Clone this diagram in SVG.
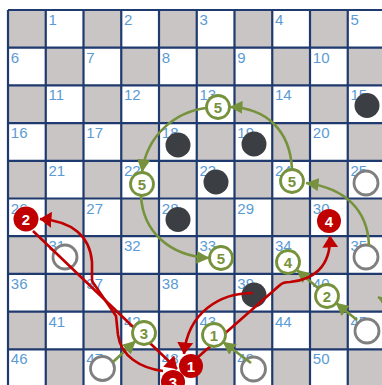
<svg xmlns="http://www.w3.org/2000/svg" width="382" height="385" viewBox="0 0 382 385">
<style>
.lbl{font-family:"Liberation Sans",Arial,sans-serif;font-size:15px;fill:#5b9bd5}
.blk{fill:#3b3e43}
.wht{fill:#ffffff;stroke:#7f7f7f;stroke-width:2.8}
.gm{fill:#ffffff;stroke:#76923c;stroke-width:2.8}
.gt{font-family:"Liberation Sans",Arial,sans-serif;font-size:15px;font-weight:bold;fill:#76923c;text-anchor:middle}
.rd{fill:#c00000}
.rt{font-family:"Liberation Sans",Arial,sans-serif;font-size:15px;font-weight:bold;fill:#ffffff;text-anchor:middle}
.gl{fill:none;stroke:#76923c;stroke-width:2.6}
.rl{fill:none;stroke:#c00000;stroke-width:2.6}
</style>
<defs>
<marker id="ag" viewBox="0 0 13 13" refX="12.5" refY="6.5" markerWidth="13" markerHeight="13" markerUnits="userSpaceOnUse" orient="auto"><path d="M0,0 L13,6.5 L0,13 z" fill="#76923c"/></marker>
<marker id="ar" viewBox="0 0 12 16" refX="11.5" refY="8" markerWidth="12" markerHeight="16" markerUnits="userSpaceOnUse" orient="auto"><path d="M0,0 L12,8 L0,16 z" fill="#c00000"/></marker>
</defs>
<rect width="382" height="385" fill="#ffffff"/>
<g id="board">
<rect x="8" y="10" width="377" height="377" fill="#c9c5c4"/>
<path fill="#ffffff" d="M45.75,10h37.75v37.7h-37.75z M121.25,10h37.75v37.7h-37.75z M196.75,10h37.75v37.7h-37.75z M272.25,10h37.75v37.7h-37.75z M347.75,10h37.75v37.7h-37.75z
M8,47.7h37.75v37.7h-37.75z M83.5,47.7h37.75v37.7h-37.75z M159,47.7h37.75v37.7h-37.75z M234.5,47.7h37.75v37.7h-37.75z M310,47.7h37.75v37.7h-37.75z
M45.75,85.4h37.75v37.7h-37.75z M121.25,85.4h37.75v37.7h-37.75z M196.75,85.4h37.75v37.7h-37.75z M272.25,85.4h37.75v37.7h-37.75z M347.75,85.4h37.75v37.7h-37.75z
M8,123.1h37.75v37.7h-37.75z M83.5,123.1h37.75v37.7h-37.75z M159,123.1h37.75v37.7h-37.75z M234.5,123.1h37.75v37.7h-37.75z M310,123.1h37.75v37.7h-37.75z
M45.75,160.8h37.75v37.7h-37.75z M121.25,160.8h37.75v37.7h-37.75z M196.75,160.8h37.75v37.7h-37.75z M272.25,160.8h37.75v37.7h-37.75z M347.75,160.8h37.75v37.7h-37.75z
M8,198.5h37.75v37.7h-37.75z M83.5,198.5h37.75v37.7h-37.75z M159,198.5h37.75v37.7h-37.75z M234.5,198.5h37.75v37.7h-37.75z M310,198.5h37.75v37.7h-37.75z
M45.75,236.2h37.75v37.7h-37.75z M121.25,236.2h37.75v37.7h-37.75z M196.75,236.2h37.75v37.7h-37.75z M272.25,236.2h37.75v37.7h-37.75z M347.75,236.2h37.75v37.7h-37.75z
M8,273.9h37.75v37.7h-37.75z M83.5,273.9h37.75v37.7h-37.75z M159,273.9h37.75v37.7h-37.75z M234.5,273.9h37.75v37.7h-37.75z M310,273.9h37.75v37.7h-37.75z
M45.75,311.6h37.75v37.7h-37.75z M121.25,311.6h37.75v37.7h-37.75z M196.75,311.6h37.75v37.7h-37.75z M272.25,311.6h37.75v37.7h-37.75z M347.75,311.6h37.75v37.7h-37.75z
M8,349.3h37.75v37.7h-37.75z M83.5,349.3h37.75v37.7h-37.75z M159,349.3h37.75v37.7h-37.75z M234.5,349.3h37.75v37.7h-37.75z M310,349.3h37.75v37.7h-37.75z"/>
<path fill="none" stroke="#1f3a6e" stroke-width="2.2" d="M8,10V385 M45.75,10V385 M83.5,10V385 M121.25,10V385 M159,10V385 M196.75,10V385 M234.5,10V385 M272.25,10V385 M310,10V385 M347.75,10V385
M8,10H382 M8,47.7H382 M8,85.4H382 M8,123.1H382 M8,160.8H382 M8,198.5H382 M8,236.2H382 M8,273.9H382 M8,311.6H382 M8,349.3H382"/>
</g>
<g id="labels">
<text class="lbl" x="48.5" y="25">1</text><text class="lbl" x="124" y="25">2</text><text class="lbl" x="199.5" y="25">3</text><text class="lbl" x="275" y="25">4</text><text class="lbl" x="350.5" y="25">5</text>
<text class="lbl" x="10.8" y="62.7">6</text><text class="lbl" x="86.3" y="62.7">7</text><text class="lbl" x="161.8" y="62.7">8</text><text class="lbl" x="237.3" y="62.7">9</text><text class="lbl" x="312.8" y="62.7">10</text>
<text class="lbl" x="48.5" y="100.4">11</text><text class="lbl" x="124" y="100.4">12</text><text class="lbl" x="199.5" y="100.4">13</text><text class="lbl" x="275" y="100.4">14</text><text class="lbl" x="350.5" y="100.4">15</text>
<text class="lbl" x="10.8" y="138.1">16</text><text class="lbl" x="86.3" y="138.1">17</text><text class="lbl" x="161.8" y="138.1">18</text><text class="lbl" x="237.3" y="138.1">19</text><text class="lbl" x="312.8" y="138.1">20</text>
<text class="lbl" x="48.5" y="175.8">21</text><text class="lbl" x="124" y="175.8">22</text><text class="lbl" x="199.5" y="175.8">23</text><text class="lbl" x="275" y="175.8">24</text><text class="lbl" x="350.5" y="175.8">25</text>
<text class="lbl" x="10.8" y="213.5">26</text><text class="lbl" x="86.3" y="213.5">27</text><text class="lbl" x="161.8" y="213.5">28</text><text class="lbl" x="237.3" y="213.5">29</text><text class="lbl" x="312.8" y="213.5">30</text>
<text class="lbl" x="48.5" y="251.2">31</text><text class="lbl" x="124" y="251.2">32</text><text class="lbl" x="199.5" y="251.2">33</text><text class="lbl" x="275" y="251.2">34</text><text class="lbl" x="350.5" y="251.2">35</text>
<text class="lbl" x="10.8" y="288.9">36</text><text class="lbl" x="86.3" y="288.9">37</text><text class="lbl" x="161.8" y="288.9">38</text><text class="lbl" x="237.3" y="288.9">39</text><text class="lbl" x="312.8" y="288.9">40</text>
<text class="lbl" x="48.5" y="326.6">41</text><text class="lbl" x="124" y="326.6">42</text><text class="lbl" x="199.5" y="326.6">43</text><text class="lbl" x="275" y="326.6">44</text><text class="lbl" x="350.5" y="326.6">45</text>
<text class="lbl" x="10.8" y="364.3">46</text><text class="lbl" x="86.3" y="364.3">47</text><text class="lbl" x="161.8" y="364.3">48</text><text class="lbl" x="237.3" y="364.3">49</text><text class="lbl" x="312.8" y="364.3">50</text>
</g>
<g id="black-15"><circle class="blk" cx="367" cy="105.5" r="12.5"/></g>
<g id="black-18"><circle class="blk" cx="178" cy="145" r="12.5"/></g>
<g id="black-19"><circle class="blk" cx="254" cy="144" r="12.5"/></g>
<g id="black-23"><circle class="blk" cx="216" cy="182" r="12.5"/></g>
<g id="black-28"><circle class="blk" cx="178" cy="219.5" r="12.5"/></g>
<g id="black-39"><circle class="blk" cx="254" cy="295" r="12.5"/></g>
<g id="white-25"><circle class="wht" cx="366" cy="183" r="12"/></g>
<g id="white-31"><circle class="wht" cx="65" cy="257" r="12"/></g>
<g id="white-35"><circle class="wht" cx="366" cy="257" r="12"/></g>
<g id="white-45"><circle class="wht" cx="367" cy="331" r="12"/></g>
<g id="white-47"><circle class="wht" cx="102.5" cy="368.5" r="12"/></g>
<g id="white-49"><circle class="wht" cx="253.5" cy="369" r="12"/></g>
<g id="connectors">
<path class="gl" marker-end="url(#ag)" d="M206,108 C175,112 147,135 142,172"/>
<path class="gl" marker-end="url(#ag)" d="M141,196 C143,232 170,256 209,258"/>
<path class="gl" marker-end="url(#ag)" d="M292,169 C290,130 266,108 230,107"/>
<path class="gl" marker-end="url(#ag)" d="M369,246 C368,210 345,188 306,183"/>
<path class="gl" marker-end="url(#ag)" d="M357,320 L336,303"/>
<path class="gl" marker-end="url(#ag)" d="M318,288 L297,270"/>
<path class="gl" marker-end="url(#ag)" d="M251,363 L223,342"/>
<path class="gl" marker-end="url(#ag)" d="M113,362 L135.5,341"/>
<path class="gl" marker-end="url(#ag)" d="M402,311 L378,297"/>
<path class="rl" marker-end="url(#ar)" d="M163,371 C140,368 121,356 118,335 L116,316 L92,281 L92,262 C90,236 72,221 40,219"/>
<path class="rl" marker-end="url(#ar)" d="M33,231 L177,369"/>
<path class="rl" marker-end="url(#ar)" d="M197,358 L280,285 Q283,282 290,282 C312,280 331,268 330,236"/>
<path class="rl" marker-end="url(#ar)" d="M253,293 C220,293 188,312 184,354"/>
</g>
<g id="step-5a"><circle class="gm" cx="218" cy="107" r="11.5"/><text class="gt" x="218" y="112.5">5</text></g>
<g id="step-5b"><circle class="gm" cx="142" cy="184" r="11.5"/><text class="gt" x="142" y="189.5">5</text></g>
<g id="step-5c"><circle class="gm" cx="292" cy="181" r="11.5"/><text class="gt" x="292" y="186.5">5</text></g>
<g id="step-5d"><circle class="gm" cx="221" cy="258" r="11.5"/><text class="gt" x="221" y="263.5">5</text></g>
<g id="step-3g"><circle class="gm" cx="144" cy="333" r="11.5"/><text class="gt" x="144" y="338.5">3</text></g>
<g id="step-1g"><circle class="gm" cx="214" cy="335" r="11.5"/><text class="gt" x="214" y="340.5">1</text></g>
<g id="step-4g"><circle class="gm" cx="288" cy="262" r="11.5"/><text class="gt" x="288" y="267.5">4</text></g>
<g id="step-2g"><circle class="gm" cx="327" cy="296" r="11.5"/><text class="gt" x="327" y="301.5">2</text></g>
<g id="red-2"><circle class="rd" cx="26" cy="219" r="12.5"/><text class="rt" x="26" y="224.5">2</text></g>
<g id="red-4"><circle class="rd" cx="329" cy="221" r="12"/><text class="rt" x="329" y="226.5">4</text></g>
<g id="red-3"><circle class="rd" cx="173" cy="382" r="12"/><text class="rt" x="173" y="387.5">3</text></g>
<g id="red-1"><circle class="rd" cx="191" cy="366" r="12"/><text class="rt" x="191" y="371.5">1</text></g>
</svg>
